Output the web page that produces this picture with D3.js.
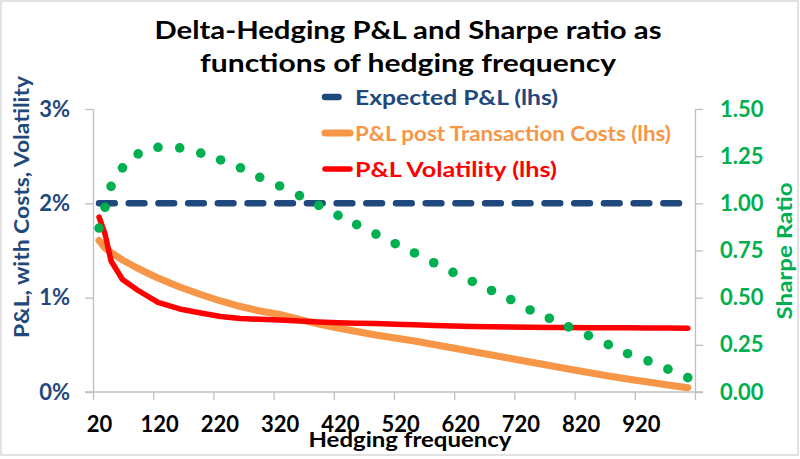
<!DOCTYPE html>
<html><head><meta charset="utf-8">
<script src="https://cdn.jsdelivr.net/npm/d3@7"></script>
<style>
body{margin:0;background:#fff}
text{font-family:Lato,"Open Sans",sans-serif;font-weight:bold}
</style>
</head><body>
<svg id="chart" width="800" height="459"></svg>
<script>
// ---- data ----
const frequency = [20,30,40,59,85,118,154,189,222,255,287,320,353,385,417,448,480,512,544,576,608,640,672,704,736,768,800,833,866,898,932,965,998];
const expectedPL = [2,2,2,2,2,2,2,2,2,2,2,2,2,2,2,2,2,2,2,2,2,2,2,2,2,2,2,2,2,2,2,2,2];
const plPostCosts = [1.606,1.527,1.479,1.399,1.309,1.208,1.113,1.034,0.965,0.906,0.859,0.822,0.769,0.721,0.678,0.641,0.604,0.572,0.541,0.504,0.466,0.429,0.392,0.355,0.318,0.281,0.244,0.207,0.170,0.138,0.106,0.074,0.046];
const plVolatility = [1.855,1.675,1.389,1.193,1.076,0.949,0.88,0.838,0.80,0.78,0.77,0.764,0.752,0.742,0.735,0.730,0.726,0.718,0.712,0.705,0.700,0.695,0.691,0.688,0.686,0.684,0.683,0.682,0.681,0.680,0.679,0.678,0.677];
const sharpeRatio = [0.869,0.979,1.090,1.188,1.262,1.297,1.294,1.266,1.230,1.188,1.138,1.092,1.041,0.989,0.936,0.887,0.837,0.786,0.737,0.685,0.634,0.586,0.538,0.490,0.435,0.391,0.345,0.299,0.251,0.203,0.165,0.121,0.076];
const xTickLabels = [20,120,220,320,420,520,620,720,820,920];
const xTickMarks = [10,110,210,310,410,510,610,710,810,910,1010];
const leftTicks = [0,1,2,3];
const rightTicks = [0,0.25,0.5,0.75,1,1.25,1.5];
const titleLines = ["Delta-Hedging P&L and Sharpe ratio as","functions of hedging frequency"];
const legendItems = [
  {label:"Expected P&L (lhs)", key:"exp"},
  {label:"P&L post Transaction Costs (lhs)", key:"cost"},
  {label:"P&L Volatility (lhs)", key:"vol"}
];

// ---- styles ----
const C = {blue:"#1F497D", orange:"#F79646", red:"#FF0000", green:"#00B050", axis:"#BFBFBF"};

const svg = d3.select("#chart");
svg.append("rect").attr("x",1).attr("y",1).attr("width",797).attr("height",454)
  .attr("fill","#fff").attr("stroke","#D9D9D9").attr("stroke-width",1.5);

const x = d3.scaleLinear().domain([10,1010]).range([93,695]);
const yL = d3.scaleLinear().domain([0,3]).range([392,109]);
const yR = d3.scaleLinear().domain([0,1.5]).range([392,109]);

function fit(sel, w){ sel.attr("textLength", w).attr("lengthAdjust","spacingAndGlyphs"); return sel; }

// title
const tW = [507, 416], tY = [39, 72];
titleLines.forEach((t,i)=>{
  fit(svg.append("text").attr("x",408).attr("y",tY[i]).attr("text-anchor","middle")
    .attr("font-size",25).attr("fill","#000").text(t), tW[i]);
});

// axes
const gL = svg.append("g").attr("transform","translate(93,0)")
  .call(d3.axisLeft(yL).tickValues(leftTicks).tickSize(8).tickSizeOuter(0).tickFormat(d=>d+"%").tickPadding(15));
const gR = svg.append("g").attr("transform","translate(695,0)")
  .call(d3.axisRight(yR).tickValues(rightTicks).tickSize(8).tickSizeOuter(0).tickFormat(d3.format(".2f")).tickPadding(17));
const gX = svg.append("g").attr("transform","translate(0,392)")
  .call(d3.axisBottom(x).tickValues(xTickMarks).tickSize(8).tickSizeOuter(0).tickFormat(""));
const gXL = svg.append("g").attr("transform","translate(0,392)")
  .call(d3.axisBottom(x).tickValues(xTickLabels).tickSize(0).tickPadding(24).tickFormat(d=>d));
gXL.select(".domain").remove();
[gL,gR,gX].forEach(g=>{
  g.selectAll(".domain,line").attr("stroke",C.axis).attr("stroke-width",1.3);
});
gX.select(".domain").attr("d","M85,0H703");
gL.selectAll("text").attr("font-size",22).attr("fill",C.blue).attr("font-family","Lato").attr("font-weight","bold");
gR.selectAll("text").attr("font-size",22).attr("fill",C.green).attr("font-family","Lato").attr("font-weight","bold");
gXL.selectAll("text").attr("font-size",22).attr("fill","#000").attr("font-family","Lato").attr("font-weight","bold");

// axis titles
fit(svg.append("text").attr("transform","translate(29,207) rotate(-90)").attr("text-anchor","middle")
  .attr("font-size",21).attr("fill",C.blue).text("P&L, with Costs, Volatility"), 262);
fit(svg.append("text").attr("transform","translate(792,251) rotate(-90)").attr("text-anchor","middle")
  .attr("font-size",20).attr("fill",C.green).text("Sharpe Ratio"), 137);
fit(svg.append("text").attr("x",410).attr("y",447).attr("text-anchor","middle")
  .attr("font-size",21).attr("fill","#000").text("Hedging frequency"), 203);

// series
const idx = d3.range(frequency.length);
const lineL = arr => d3.line().x(i=>x(frequency[i])).y(i=>yL(arr[i]))(idx);

svg.append("path").attr("d",lineL(plPostCosts)).attr("fill","none")
  .attr("stroke",C.orange).attr("stroke-width",7).attr("stroke-linejoin","round").attr("stroke-linecap","round");
svg.append("path").attr("d",lineL(plVolatility)).attr("fill","none")
  .attr("stroke",C.red).attr("stroke-width",5.5).attr("stroke-linejoin","round").attr("stroke-linecap","round");
svg.append("path").attr("d",lineL(expectedPL)).attr("fill","none")
  .attr("stroke",C.blue).attr("stroke-width",6.5).attr("stroke-linecap","round")
  .attr("stroke-dasharray","15.7,14");
svg.append("g").selectAll("circle").data(idx).join("circle")
  .attr("cx",i=>x(frequency[i])).attr("cy",i=>yR(sharpeRatio[i])).attr("r",4.8).attr("fill",C.green);

// legend
const lg = svg.append("g");
const lgY = [97, 133, 169];
const lgW = [203, 316, 202];
const lgStyle = {exp:{c:C.blue,w:6.5,x2:338.5}, cost:{c:C.orange,w:7,x2:350}, vol:{c:C.red,w:5.5,x2:350}};
legendItems.forEach((it,i)=>{
  const s = lgStyle[it.key];
  lg.append("line").attr("x1",325).attr("x2",s.x2).attr("y1",lgY[i]).attr("y2",lgY[i])
    .attr("stroke",s.c).attr("stroke-width",s.w).attr("stroke-linecap","round");
  fit(lg.append("text").attr("x",355).attr("y",lgY[i]).attr("dy","0.36em")
    .attr("font-size",21).attr("fill",s.c).text(it.label), lgW[i]);
});
</script>
</body></html>
